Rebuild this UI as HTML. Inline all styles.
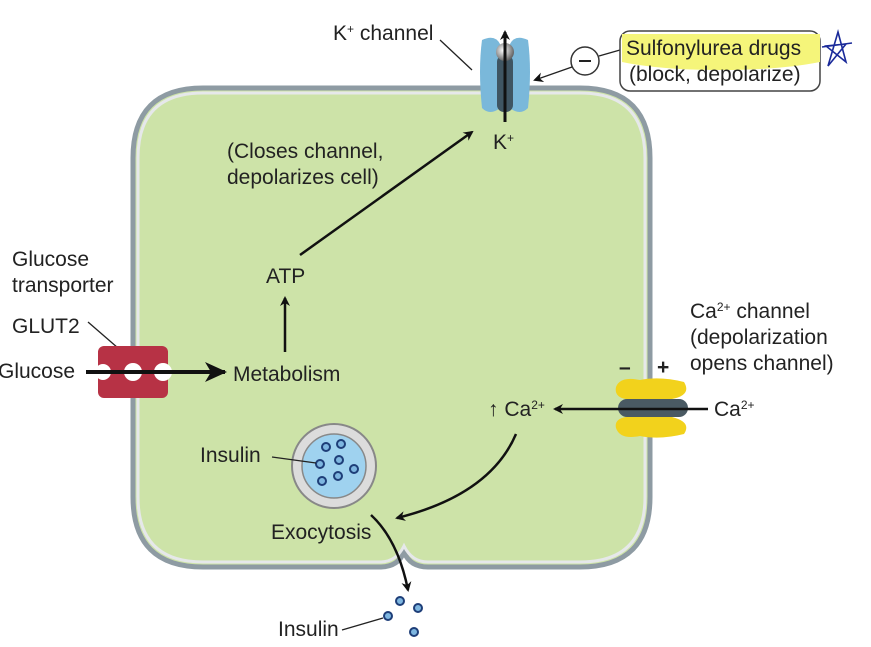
<!DOCTYPE html>
<html><head><style>
html,body{margin:0;padding:0;background:#fff;}
svg{display:block;font-family:"Liberation Sans",Arial,sans-serif;}
text{fill:#222;font-size:21px;}
</style></head><body>
<svg width="871" height="647" viewBox="0 0 871 647">
<defs>
<marker id="ah" markerWidth="10" markerHeight="10" refX="8" refY="5" orient="auto" markerUnits="userSpaceOnUse"><path d="M0,0 L10,5 L0,10 L3,5 z" fill="#111"/></marker>
<marker id="ahb" markerWidth="22" markerHeight="20" refX="20" refY="10" orient="auto" markerUnits="userSpaceOnUse"><path d="M0,0 L22,10 L0,20 L6,10 z" fill="#111"/></marker>
<radialGradient id="gs" cx="0.4" cy="0.4" r="0.6"><stop offset="0" stop-color="#fff"/><stop offset="1" stop-color="#666"/></radialGradient>
</defs>
<!-- cell -->
<path d="M203,88 H580 Q650,88 650,158 V497 Q650,567 580,567 H428 Q410,567 404,552 Q398,567 380,567 H203 Q133,567 133,497 V158 Q133,88 203,88 Z" fill="#cde3a8" stroke="#8e9ba3" stroke-width="5"/>
<path d="M203,93 H580 Q645,93 645,158 V497 Q645,562 580,562 H428 Q412,562 404,546 Q396,562 380,562 H203 Q138,562 138,497 V158 Q138,93 203,93 Z" fill="none" stroke="#e6e8ea" stroke-width="3"/>
<!-- K channel -->
<path d="M482,40 Q495,34 500,44 L500,108 Q490,116 482,108 Q478,70 482,40 Z" fill="#7ab8da"/>
<path d="M528,40 Q515,34 510,44 L510,108 Q520,116 528,108 Q532,70 528,40 Z" fill="#7ab8da"/>
<rect x="497" y="55" width="16" height="57" rx="7" fill="#3f5562"/>
<circle cx="505" cy="52" r="9" fill="url(#gs)"/>
<line x1="505" y1="122" x2="505" y2="32" stroke="#111" stroke-width="3" marker-end="url(#ah)"/>
<text x="493" y="149">K<tspan font-size="12" dy="-7">+</tspan></text>
<text x="333" y="40">K<tspan font-size="12" dy="-7">+</tspan><tspan dy="7"> channel</tspan></text>
<line x1="440" y1="40" x2="472" y2="70" stroke="#222" stroke-width="1.3"/>
<!-- sulfonylurea -->
<circle cx="585" cy="61" r="14" fill="#fff" stroke="#333" stroke-width="1.5"/>
<line x1="579" y1="61" x2="591" y2="61" stroke="#222" stroke-width="2"/>
<line x1="572" y1="67" x2="535" y2="80" stroke="#222" stroke-width="1.3" marker-end="url(#ah)"/>
<line x1="599" y1="56" x2="620" y2="50" stroke="#222" stroke-width="1.3"/>
<rect x="620" y="31" width="200" height="60" rx="10" fill="#fff" stroke="#444" stroke-width="1.5"/>
<path d="M622,34 H820 V62 Q780,70 720,70 Q660,70 622,62 Z" fill="#f5f57a"/>
<text x="626" y="55" font-size="21.5">Sulfonylurea drugs</text>
<text x="629" y="81" font-size="21.5">(block, depolarize)</text>
<path d="M822,47 L852,43 M838,32 L828,66 L846,44 L826,46 L846,62 Z" fill="none" stroke="#1a2a9a" stroke-width="1.6"/>
<!-- text & arrows inside -->
<text x="227" y="158">(Closes channel,</text>
<text x="227" y="184">depolarizes cell)</text>
<line x1="300" y1="255" x2="472" y2="132" stroke="#111" stroke-width="2.5" marker-end="url(#ah)"/>
<text x="266" y="283">ATP</text>
<line x1="285" y1="352" x2="285" y2="298" stroke="#111" stroke-width="2.5" marker-end="url(#ah)"/>
<text x="233" y="381">Metabolism</text>
<!-- glucose -->
<text x="12" y="266">Glucose</text>
<text x="12" y="292">transporter</text>
<text x="12" y="333">GLUT2</text>
<line x1="88" y1="322" x2="118" y2="348" stroke="#222" stroke-width="1.3"/>
<rect x="98" y="346" width="70" height="52" rx="6" fill="#b73245"/>
<circle cx="133" cy="372" r="9" fill="#fff"/><circle cx="163" cy="372" r="9" fill="#fff"/><circle cx="103" cy="372" r="8" fill="#fff"/>
<text x="-2" y="378">Glucose</text>
<line x1="86" y1="372" x2="225" y2="372" stroke="#111" stroke-width="4" marker-end="url(#ahb)"/>
<!-- Ca channel -->
<text x="690" y="318">Ca<tspan font-size="12" dy="-7">2+</tspan><tspan dy="7"> channel</tspan></text>
<text x="690" y="344">(depolarization</text>
<text x="690" y="370">opens channel)</text>
<text x="619" y="374" font-weight="bold">–</text>
<text x="657" y="374" font-weight="bold">+</text>
<path d="M616,387 Q620,376 640,380 Q660,376 684,382 Q692,395 672,399 H626 Q614,397 616,387 Z" fill="#f2d21c"/>
<path d="M616,428 Q620,440 640,436 Q660,440 684,434 Q692,422 672,417 H626 Q614,419 616,428 Z" fill="#f2d21c"/>
<rect x="618" y="399" width="70" height="18" rx="9" fill="#4a5a63"/>
<line x1="708" y1="409" x2="555" y2="409" stroke="#111" stroke-width="2.5" marker-end="url(#ah)"/>
<text x="714" y="416">Ca<tspan font-size="12" dy="-7">2+</tspan></text>
<text x="488" y="416">↑ Ca<tspan font-size="12" dy="-7">2+</tspan></text>
<path d="M516,434 Q490,495 397,518" fill="none" stroke="#111" stroke-width="2.5" marker-end="url(#ah)"/>
<!-- vesicle -->
<circle cx="334" cy="466" r="42" fill="#dcdcdc" stroke="#888" stroke-width="2"/>
<circle cx="334" cy="466" r="32" fill="#9fd2ef" stroke="#888" stroke-width="1.5"/>
<g fill="#7eb6e0" stroke="#1e3e78" stroke-width="2">
<circle cx="326" cy="447" r="4"/><circle cx="341" cy="444" r="4"/><circle cx="339" cy="460" r="4"/>
<circle cx="320" cy="464" r="4"/><circle cx="354" cy="469" r="4"/><circle cx="338" cy="476" r="4"/><circle cx="322" cy="481" r="4"/>
</g>
<text x="200" y="462">Insulin</text>
<line x1="272" y1="457" x2="316" y2="463" stroke="#222" stroke-width="1.3"/>
<text x="271" y="539">Exocytosis</text>
<path d="M371,515 Q398,540 408,590" fill="none" stroke="#111" stroke-width="2.5" marker-end="url(#ah)"/>
<g fill="#7eb6e0" stroke="#1e3e78" stroke-width="2">
<circle cx="400" cy="601" r="4"/><circle cx="418" cy="608" r="4"/><circle cx="388" cy="616" r="4"/><circle cx="414" cy="632" r="4"/>
</g>
<text x="278" y="636">Insulin</text>
<line x1="342" y1="630" x2="383" y2="618" stroke="#222" stroke-width="1.3"/>
</svg>
</body></html>
